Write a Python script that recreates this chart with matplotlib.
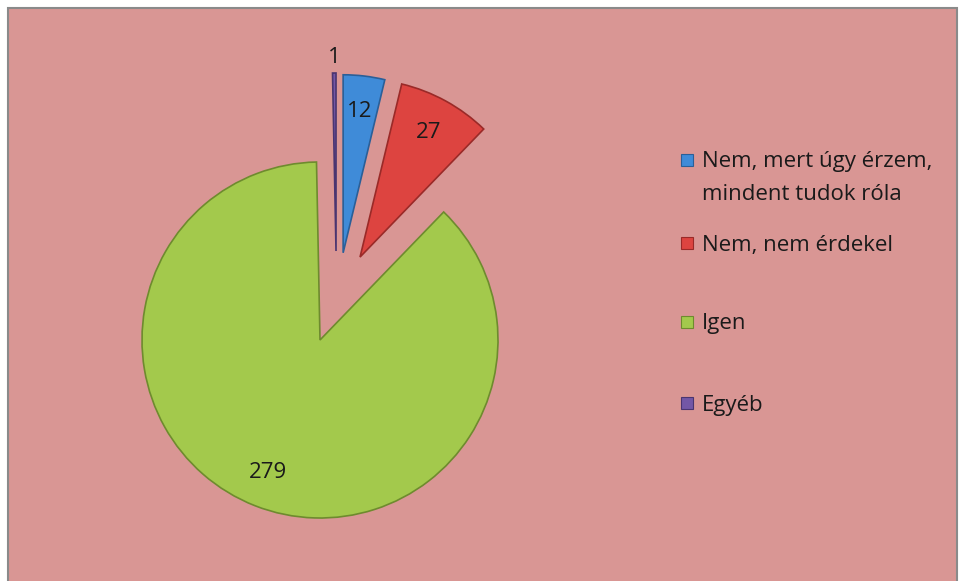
import matplotlib.pyplot as plt
import matplotlib.patches as mpatches
import numpy as np

# data
labels = ['Nem, mert úgy érzem,\nmindent tudok róla', 'Nem, nem érdekel', 'Igen', 'Egyéb']
values = [12, 27, 279, 1]
colors = ['#3F8BD8', '#DD4440', '#A3C94C', '#7357A6']
edges = ['#2A5F98', '#9A2A28', '#6E8B2E', '#4A3570']
# how far each slice is pulled out (dx, dy in radius units)
pull = [(0.13, 0.49), (0.225, 0.466), (0.0, 0.0), (0.09, 0.5)]

W, H = 960, 581
fig = plt.figure(figsize=(W / 100, H / 100), dpi=100, facecolor='white')
plt.rcParams['font.family'] = ['Open Sans', 'DejaVu Sans']
FS = 16

# pink chart area with grey frame
fig.patches.append(mpatches.Rectangle((8 / W, -0.02), (957 - 8) / W, (H - 8) / H + 0.02,
                                      transform=fig.transFigure, facecolor='#D99694',
                                      edgecolor='#8A8A8A', linewidth=1.5, zorder=-5))

# pie axes: centre (320,340) px, radius 178 px
R = 178
cx, cy = 320, 340
a = 1.7
side = 2 * a * R
ax = fig.add_axes([(cx - side / 2) / W, (H - cy - side / 2) / H, side / W, side / H])
ax.set_facecolor('none')

total = sum(values)
wedges, texts, autotexts = ax.pie(values, colors=colors, startangle=90,
                                  counterclock=False, radius=1,
                                  autopct=lambda p: f'{round(p * total / 100)}',
                                  pctdistance=0.8,
                                  wedgeprops=dict(linewidth=1.2),
                                  textprops=dict(fontsize=FS, color='#1a1a1a'))
for w, e, t, (dx, dy) in zip(wedges, edges, autotexts, pull):
    w.set_edgecolor(e)
    w.set_center((dx, dy))
    tx, ty = t.get_position()
    t.set_position((tx + dx, ty + dy))

# the tiny slice gets its label outside
w = wedges[3]
ang = np.deg2rad((w.theta1 + w.theta2) / 2)
cxw, cyw = w.center
autotexts[3].set_position((cxw + 1.03 * np.cos(ang), cyw + 1.03 * np.sin(ang)))
autotexts[3].set_va('bottom')

ax.set_xlim(-a, a)
ax.set_ylim(-a, a)
ax.set_aspect('equal')
ax.axis('off')

# legend
leg_y = [160, 243, 322, 403]
for lab, col, ed, y in zip(labels, colors, edges, leg_y):
    fig.patches.append(mpatches.Rectangle((681 / W, (H - y - 6) / H), 12 / W, 12 / H,
                                          transform=fig.transFigure, facecolor=col,
                                          edgecolor=ed, linewidth=0.8))
    for k, line in enumerate(lab.split('\n')):
        fig.text(702 / W, (H - (y + 7.5 + 32 * k)) / H, line, fontsize=FS,
                 color='#1a1a1a', va='baseline', ha='left')

fig.savefig('out.png', dpi=100, facecolor='white')
